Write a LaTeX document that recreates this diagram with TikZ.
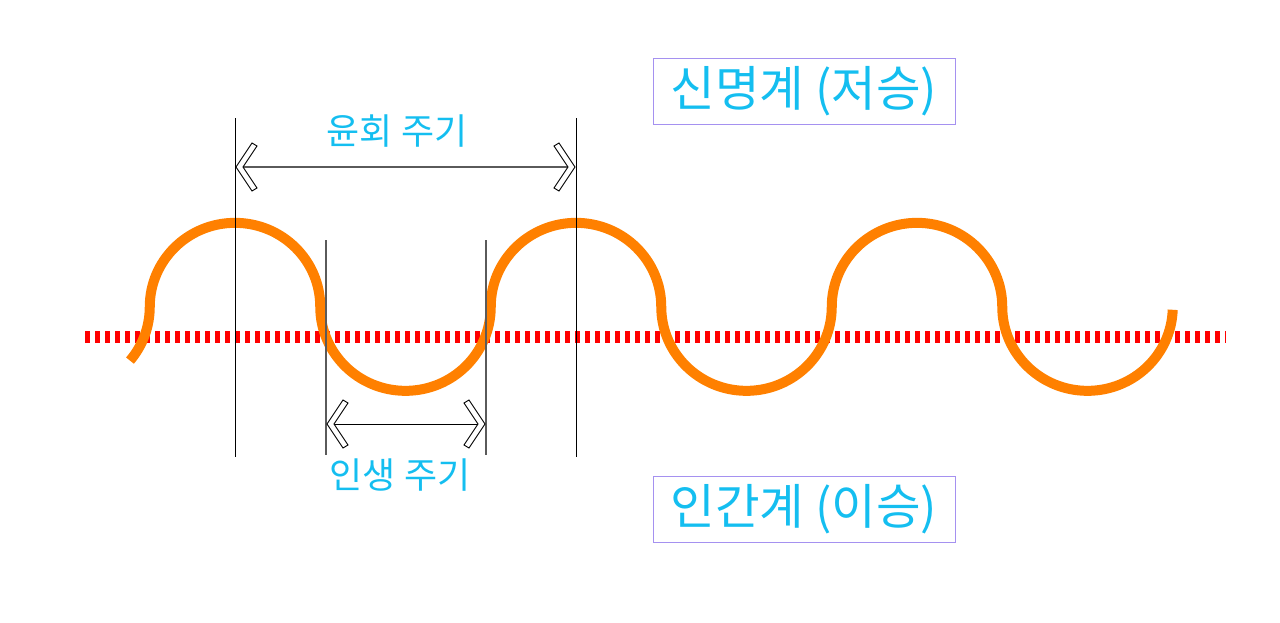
\documentclass[tikz,border=0pt]{standalone}
\usepackage{fontspec}
\newfontfamily\kr{Noto Sans CJK KR}
\definecolor{wave}{RGB}{255,128,0}
\definecolor{axisred}{RGB}{255,0,0}
\definecolor{labelblue}{RGB}{20,190,240}
\definecolor{boxline}{RGB}{165,145,240}
\definecolor{darkgray}{RGB}{90,90,90}
\tikzset{
  guide/.style={line width=1pt, black},
  guidegray/.style={line width=1.4pt, darkgray},
  chev/.pic={\draw[line width=0.9pt, fill=white] (0,0) -- (16,-24) -- (21,-21) -- (7,0) -- (21,21) -- (16,24) -- cycle;},
  lbl/.style={text=labelblue, font=\kr\fontsize{36}{40}\selectfont, inner sep=0pt},
  realm/.style={draw=boxline, line width=1pt, minimum width=302pt, minimum height=66pt, inner sep=0pt, text=labelblue, font=\kr\fontsize{48.5}{54}\selectfont},
}
\begin{document}
\begin{tikzpicture}[x=1pt,y=-1pt]
\useasboundingbox (0,0) rectangle (1280,622);
% dashed red axis
\coordinate (axL) at (85,337);
\coordinate (axR) at (1226,337);
\draw[axisred, line width=12pt, dash pattern=on 4.5pt off 5.5pt] (axL) -- (axR);
% orange wave of semicircles
\draw[wave, line width=10pt]
  (130,360.6) arc[start angle=39.8, end angle=0, x radius=85.25, y radius=84]
  arc[start angle=180, end angle=360, x radius=85.25, y radius=84]
  arc[start angle=180, end angle=0, x radius=85.25, y radius=84]
  arc[start angle=180, end angle=360, x radius=85.25, y radius=84]
  arc[start angle=180, end angle=0, x radius=85.25, y radius=84]
  arc[start angle=180, end angle=360, x radius=85.25, y radius=84]
  arc[start angle=180, end angle=2, x radius=85.25, y radius=84];
% guide lines
\coordinate (g1t) at (235,118); \coordinate (g1b) at (235,457);
\coordinate (g2t) at (576,118); \coordinate (g2b) at (576,457);
\coordinate (g3t) at (326,240); \coordinate (g3b) at (326,455);
\coordinate (g4t) at (486,240); \coordinate (g4b) at (486,455);
\draw[guide] (g1t) -- (g1b);
\draw[guide] (g2t) -- (g2b);
\draw[guidegray] (g3t) -- (g3b);
\draw[guidegray] (g4t) -- (g4b);
% top dimension arrow
\coordinate (a1) at (236,167);
\coordinate (a2) at (575,167);
\draw[line width=1.6pt, darkgray] (a1) -- (a2);
\pic at (a1) {chev};
\pic[xscale=-1] at (a2) {chev};
% bottom dimension arrow
\coordinate (b1) at (327,424);
\coordinate (b2) at (485,424);
\draw[line width=1pt, black] (b1) -- (b2);
\pic at (b1) {chev};
\pic[xscale=-1] at (b2) {chev};
% labels
\node[lbl] (reinc) at (397,131) {윤회 주기};
\node[lbl] (life) at (400,475) {인생 주기};
\node[realm] (upper) at (804,91) {신명계 (저승)};
\node[realm] (lower) at (804,509.5) {인간계 (이승)};
\end{tikzpicture}
\end{document}
